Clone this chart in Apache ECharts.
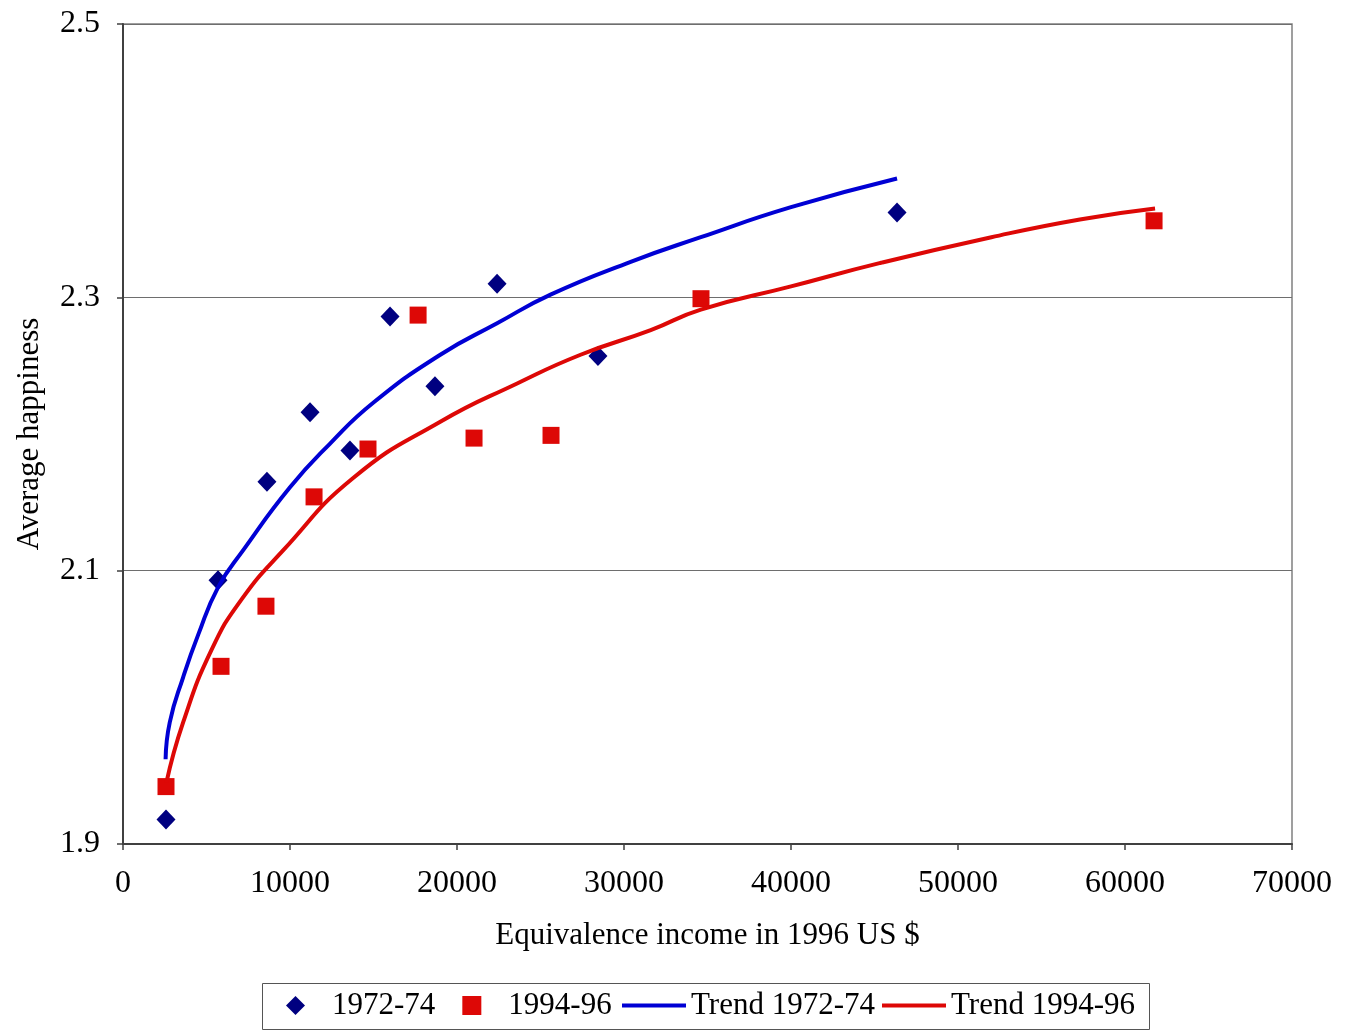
<!DOCTYPE html>
<html>
<head>
<meta charset="utf-8">
<script src="https://cdn.jsdelivr.net/npm/echarts@6/dist/echarts.min.js"></script>
<style>
html,body{margin:0;padding:0;background:#fff;}
#chart{width:1350px;height:1032px;}
</style>
</head>
<body>
<div id="chart"></div>
<script>
// Data
const seriesNames = ['1972-74', '1994-96', 'Trend 1972-74', 'Trend 1994-96'];
const points7274 = [
  [2575, 1.918], [5690, 2.093], [8620, 2.165], [11200, 2.216], [13590, 2.188],
  [15990, 2.286], [18680, 2.235], [22400, 2.310], [28440, 2.257], [46350, 2.362]
];
const points9496 = [
  [2575, 1.942], [5870, 2.030], [8560, 2.074], [11440, 2.154], [14670, 2.189],
  [17670, 2.287], [21020, 2.197], [25630, 2.199], [34610, 2.299], [61740, 2.356]
];
const trend7274 = [
  [2550, 1.962], [2800, 1.989], [3600, 2.022], [4500, 2.053], [5700, 2.088],
  [7200, 2.115], [10000, 2.161], [12400, 2.193], [15000, 2.223], [19000, 2.258],
  [22400, 2.281], [25600, 2.302], [30400, 2.326], [34600, 2.344], [40000, 2.366],
  [46350, 2.387]
];
const trend9496 = [
  [2600, 1.945], [3600, 1.989], [5300, 2.042], [7100, 2.079], [9600, 2.115],
  [13800, 2.168], [19000, 2.209], [23600, 2.237], [27400, 2.258], [31600, 2.276],
  [34600, 2.291], [40000, 2.308], [45300, 2.325], [52000, 2.344], [57300, 2.357],
  [61800, 2.365]
];
const xTicks = { min: 0, max: 70000, interval: 10000 };
const yTicks = { min: 1.9, max: 2.5, interval: 0.2 };
const xTitle = 'Equivalence income in 1996 US $';
const yTitle = 'Average happiness';

const FONT = '"Liberation Serif", "Times New Roman", serif';
const legendText = { fontFamily: FONT, fontSize: 31, color: '#000' };
const chart = echarts.init(document.getElementById('chart'));
chart.setOption({
  animation: false,
  backgroundColor: '#ffffff',
  grid: {
    left: 123, right: 58, top: 24, bottom: 188,
    outerBoundsMode: 'none', containLabel: false,
    show: true, borderColor: '#808080', borderWidth: 1.5
  },
  graphic: [{
    type: 'rect', silent: true,
    shape: { x: 262.5, y: 983.5, width: 887, height: 46 },
    style: { fill: 'none', stroke: '#555555', lineWidth: 1 }
  }],
  legend: [
    {
      data: [
        { name: seriesNames[0], icon: 'diamond' },
        { name: seriesNames[1], icon: 'rect' }
      ],
      left: 286, top: 990, padding: 0,
      itemGap: 27, itemWidth: 19, itemHeight: 19,
      textStyle: Object.assign({ padding: [0, 0, 0, 22] }, legendText)
    },
    {
      data: [
        { name: seriesNames[2], icon: 'rect' },
        { name: seriesNames[3], icon: 'rect' }
      ],
      left: 622, top: 990, padding: 0,
      itemGap: 7, itemWidth: 64, itemHeight: 4,
      textStyle: legendText
    }
  ],
  xAxis: {
    type: 'value',
    min: xTicks.min, max: xTicks.max, interval: xTicks.interval,
    name: xTitle, nameLocation: 'middle', nameGap: 76,
    nameTextStyle: { fontFamily: FONT, fontSize: 31, color: '#000' },
    axisLine: { show: true, lineStyle: { color: '#404040', width: 2 } },
    axisTick: { show: true, length: 6, lineStyle: { color: '#404040', width: 1.5 } },
    axisLabel: { fontFamily: FONT, fontSize: 32, color: '#000', margin: 24,
      formatter: v => String(v) },
    splitLine: { show: false }
  },
  yAxis: {
    type: 'value',
    min: yTicks.min, max: yTicks.max, interval: yTicks.interval,
    name: yTitle, nameLocation: 'middle', nameGap: 78, nameRotate: 90,
    nameTextStyle: { fontFamily: FONT, fontSize: 31, color: '#000' },
    axisLine: { show: true, lineStyle: { color: '#404040', width: 2 } },
    axisTick: { show: true, length: 6, lineStyle: { color: '#404040', width: 1.5 } },
    axisLabel: { fontFamily: FONT, fontSize: 32, color: '#000', margin: 23,
      formatter: v => v.toFixed(1) },
    splitLine: { show: true, lineStyle: { color: '#6e6e6e', width: 1.2 } }
  },
  series: [
    { name: seriesNames[0], type: 'scatter', data: points7274,
      symbol: 'diamond', symbolSize: [19, 20],
      itemStyle: { color: '#000080', opacity: 1 } },
    { name: seriesNames[1], type: 'scatter', data: points9496,
      symbol: 'rect', symbolSize: [17, 17],
      itemStyle: { color: '#dd0806', opacity: 1 } },
    { name: seriesNames[2], type: 'line', data: trend7274, smooth: true,
      symbol: 'none', showSymbol: false,
      lineStyle: { color: '#0000d4', width: 4 }, itemStyle: { color: '#0000d4' } },
    { name: seriesNames[3], type: 'line', data: trend9496, smooth: true,
      symbol: 'none', showSymbol: false,
      lineStyle: { color: '#dd0806', width: 4 }, itemStyle: { color: '#dd0806' } }
  ]
});
</script>
</body>
</html>
